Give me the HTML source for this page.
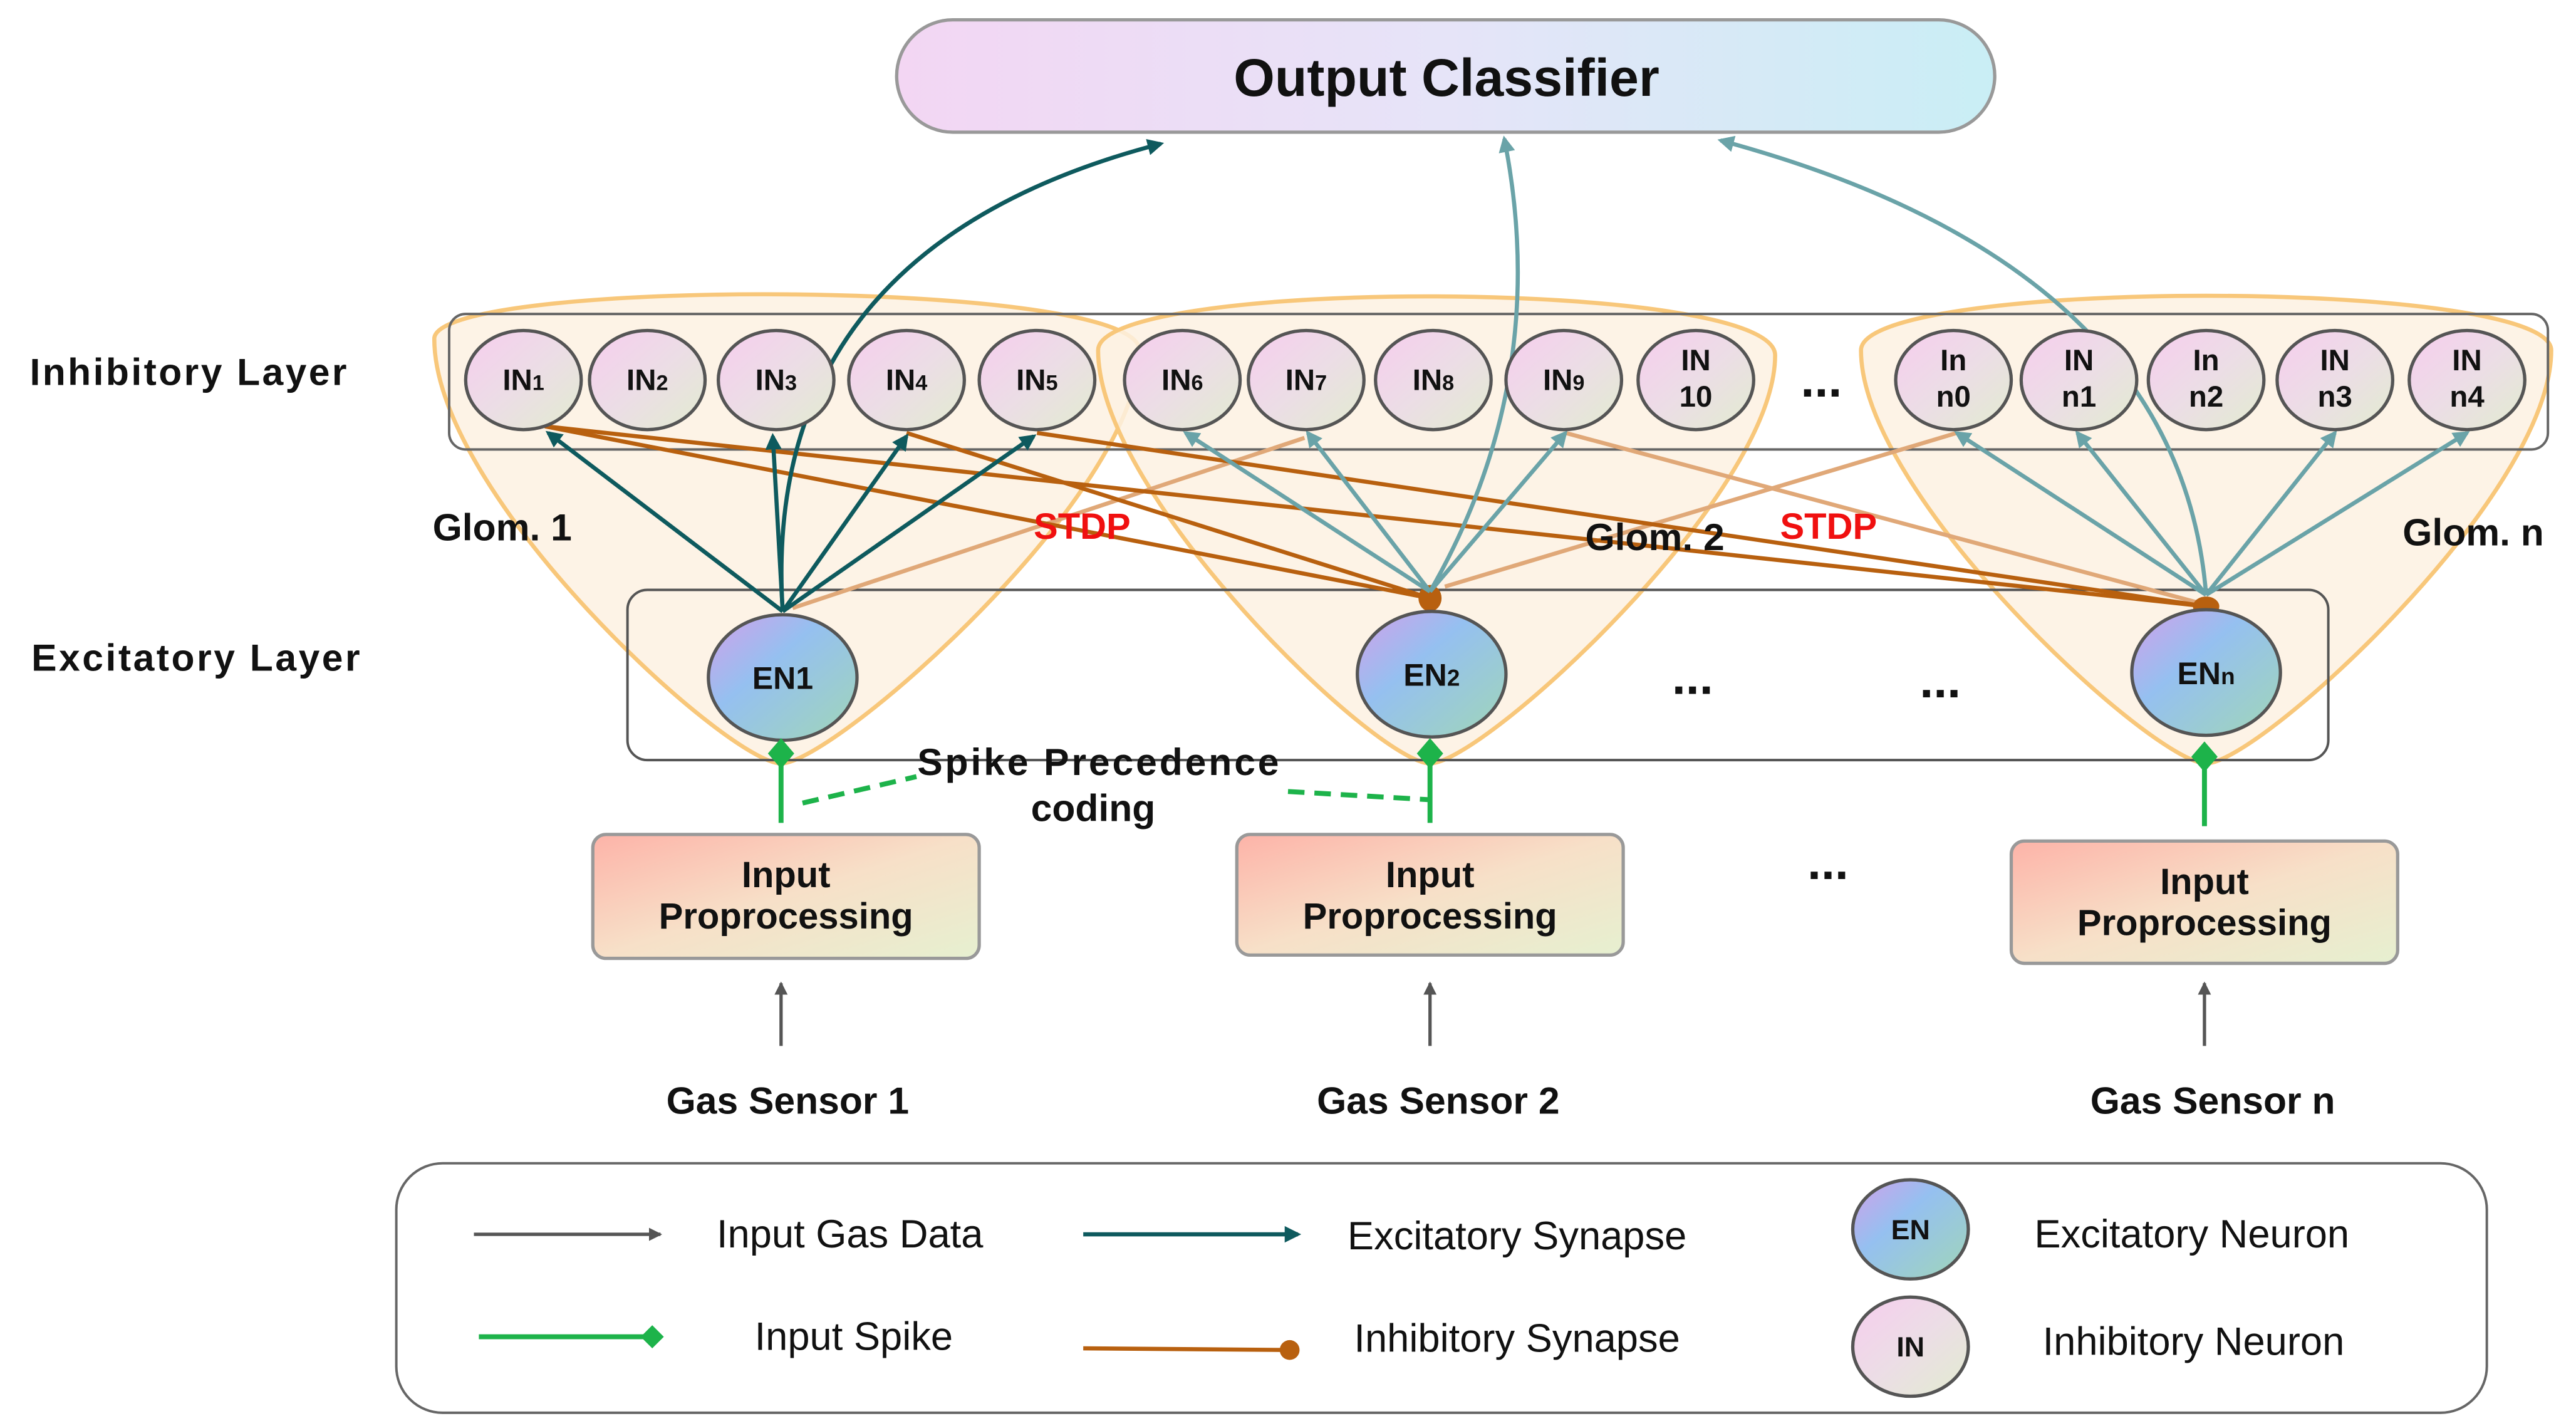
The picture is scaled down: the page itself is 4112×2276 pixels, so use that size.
<!DOCTYPE html>
<html><head><meta charset="utf-8"><style>
html,body{margin:0;padding:0;background:#fff;}
svg{display:block;}
text{font-family:"Liberation Sans",Arial,sans-serif;}
</style></head><body>
<svg width="4112" height="2276" viewBox="0 0 1560 863" preserveAspectRatio="none" xmlns="http://www.w3.org/2000/svg">
<defs>
<linearGradient id="oc" x1="0" y1="0" x2="1" y2="0"><stop offset="0" stop-color="#f3d6f3"/><stop offset="0.5" stop-color="#e6e4f8"/><stop offset="1" stop-color="#c9eef5"/></linearGradient>
<linearGradient id="in" x1="0" y1="0" x2="1" y2="1"><stop offset="0" stop-color="#f7cdee"/><stop offset="0.5" stop-color="#ecdde6"/><stop offset="1" stop-color="#e2ecd0"/></linearGradient>
<linearGradient id="en" x1="0" y1="0" x2="1" y2="1"><stop offset="0" stop-color="#d2a0ea"/><stop offset="0.4" stop-color="#95c0f0"/><stop offset="1" stop-color="#a0d6b8"/></linearGradient>
<linearGradient id="ip" x1="0" y1="0" x2="1" y2="1"><stop offset="0" stop-color="#fdb3a8"/><stop offset="0.5" stop-color="#f7e0c8"/><stop offset="1" stop-color="#e6f0d0"/></linearGradient>
<marker id="ad" markerWidth="10" markerHeight="10" refX="8" refY="5" orient="auto" markerUnits="userSpaceOnUse"><path d="M0,0 L10,5 L0,10 Z" fill="#0e5a5e"/></marker>
<marker id="al" markerWidth="10" markerHeight="10" refX="8" refY="5" orient="auto" markerUnits="userSpaceOnUse"><path d="M0,0 L10,5 L0,10 Z" fill="#6aa3a8"/></marker>
<marker id="ag" markerWidth="8" markerHeight="8" refX="7" refY="4" orient="auto" markerUnits="userSpaceOnUse"><path d="M0,0 L8,4 L0,8 Z" fill="#555"/></marker>
</defs>

<rect x="543" y="12" width="665" height="68" rx="34" fill="url(#oc)" stroke="#999" stroke-width="2"/>
<text x="876" y="58" font-size="32" font-weight="bold" text-anchor="middle" fill="#111">Output Classifier</text>

<g fill="#fdf1e2" fill-opacity="0.85" stroke="#f8c77a" stroke-width="2.5">
<path d="M263,205 C263,168 690,168 690,212 C690,300 505,462 473,462 C441,462 263,300 263,205 Z"/>
<path d="M665,212 C665,168 1075,168 1075,215 C1075,300 898,462 866,462 C834,462 665,300 665,212 Z"/>
<path d="M1127,212 C1127,168 1545,168 1545,212 C1545,300 1368,462 1336,462 C1304,462 1127,300 1127,212 Z"/>
</g>
<rect x="272" y="190" width="1271" height="82" rx="10" fill="none" stroke="#666" stroke-width="1.5"/>
<rect x="380" y="357" width="1030" height="103" rx="12" fill="none" stroke="#555" stroke-width="1.5"/>

<g stroke="#e0a878" stroke-width="2.5" fill="none">
<line x1="480" y1="368" x2="790" y2="265"/>
<line x1="875" y1="355" x2="1185" y2="262"/>
<line x1="948" y1="262" x2="1336" y2="366"/>
</g>
<g stroke="#b8600f" stroke-width="2.5" fill="none">
<line x1="330" y1="258" x2="866" y2="362"/>
<line x1="330" y1="258" x2="1336" y2="367"/>
<line x1="549" y1="262" x2="866" y2="362"/>
<line x1="628" y1="262" x2="1336" y2="367"/>
</g>
<ellipse cx="866" cy="362" rx="7" ry="8" fill="#b8600f"/>
<ellipse cx="1336" cy="367" rx="8" ry="6" fill="#b8600f"/>

<g stroke="#0e5a5e" stroke-width="2.5" fill="none" marker-end="url(#ad)">
<line x1="474" y1="370" x2="332" y2="262"/>
<line x1="474" y1="370" x2="468" y2="264"/>
<line x1="474" y1="370" x2="549" y2="264"/>
<line x1="474" y1="370" x2="626" y2="264"/>
<path d="M474,370 Q460,150 703,87"/>
</g>
<g stroke="#6aa3a8" stroke-width="2.5" fill="none" marker-end="url(#al)">
<line x1="866" y1="358" x2="718" y2="262"/>
<line x1="866" y1="358" x2="792" y2="262"/>
<line x1="866" y1="358" x2="948" y2="262"/>
<path d="M866,358 Q940,230 911,84"/>
<line x1="1336" y1="360" x2="1185" y2="262"/>
<line x1="1336" y1="360" x2="1258" y2="262"/>
<line x1="1336" y1="360" x2="1414" y2="262"/>
<line x1="1336" y1="360" x2="1494" y2="262"/>
<path d="M1336,360 Q1320,160 1042,85"/>
</g>

<g stroke="#555" stroke-width="2" fill="url(#in)">
<ellipse cx="317" cy="230" rx="35" ry="30"/><ellipse cx="392" cy="230" rx="35" ry="30"/>
<ellipse cx="470" cy="230" rx="35" ry="30"/><ellipse cx="549" cy="230" rx="35" ry="30"/>
<ellipse cx="628" cy="230" rx="35" ry="30"/><ellipse cx="716" cy="230" rx="35" ry="30"/>
<ellipse cx="791" cy="230" rx="35" ry="30"/><ellipse cx="868" cy="230" rx="35" ry="30"/>
<ellipse cx="947" cy="230" rx="35" ry="30"/><ellipse cx="1027" cy="230" rx="35" ry="30"/>
<ellipse cx="1183" cy="230" rx="35" ry="30"/><ellipse cx="1259" cy="230" rx="35" ry="30"/>
<ellipse cx="1336" cy="230" rx="35" ry="30"/><ellipse cx="1414" cy="230" rx="35" ry="30"/>
<ellipse cx="1494" cy="230" rx="35" ry="30"/>
</g>
<g font-size="18" font-weight="bold" text-anchor="middle" fill="#111">
<text x="317" y="236">IN<tspan font-size="13">1</tspan></text>
<text x="392" y="236">IN<tspan font-size="13">2</tspan></text>
<text x="470" y="236">IN<tspan font-size="13">3</tspan></text>
<text x="549" y="236">IN<tspan font-size="13">4</tspan></text>
<text x="628" y="236">IN<tspan font-size="13">5</tspan></text>
<text x="716" y="236">IN<tspan font-size="13">6</tspan></text>
<text x="791" y="236">IN<tspan font-size="13">7</tspan></text>
<text x="868" y="236">IN<tspan font-size="13">8</tspan></text>
<text x="947" y="236">IN<tspan font-size="13">9</tspan></text>
<text x="1027" y="224">IN</text><text x="1027" y="246">10</text>
<text x="1183" y="224">In</text><text x="1183" y="246">n0</text>
<text x="1259" y="224">IN</text><text x="1259" y="246">n1</text>
<text x="1336" y="224">In</text><text x="1336" y="246">n2</text>
<text x="1414" y="224">IN</text><text x="1414" y="246">n3</text>
<text x="1494" y="224">IN</text><text x="1494" y="246">n4</text>
</g>

<g stroke="#555" stroke-width="2" fill="url(#en)">
<ellipse cx="474" cy="410" rx="45" ry="38"/>
<ellipse cx="867" cy="408" rx="45" ry="38"/>
<ellipse cx="1336" cy="407" rx="45" ry="38"/>
</g>
<g font-size="19" font-weight="bold" text-anchor="middle" fill="#111">
<text x="474" y="417">EN1</text>
<text x="867" y="415">EN<tspan font-size="14">2</tspan></text>
<text x="1336" y="414">EN<tspan font-size="14">n</tspan></text>
</g>

<g font-size="23" font-weight="bold" fill="#111">
<text x="18" y="233" textLength="192">Inhibitory Layer</text>
<text x="19" y="406" textLength="199">Excitatory Layer</text>
<text x="262" y="327">Glom. 1</text>
<text x="960" y="333">Glom. 2</text>
<text x="1455" y="330">Glom. n</text>
</g>
<g font-size="22" font-weight="bold" fill="#f01010">
<text x="626" y="326">STDP</text>
<text x="1078" y="326">STDP</text>
</g>
<g font-size="30" font-weight="bold" fill="#111" text-anchor="middle">
<text x="1103" y="240">...</text>
<text x="1025" y="420">...</text>
<text x="1175" y="422">...</text>
<text x="1107" y="532">...</text>
</g>

<g stroke="#1db34a" stroke-width="3" fill="#1db34a">
<line x1="473" y1="498" x2="473" y2="460"/><path d="M473,449 L479,456 L473,463 L467,456 Z"/>
<line x1="866" y1="498" x2="866" y2="460"/><path d="M866,449 L872,456 L866,463 L860,456 Z"/>
<line x1="1335" y1="500" x2="1335" y2="462"/><path d="M1335,451 L1341,458 L1335,465 L1329,458 Z"/>
</g>
<g stroke="#1db34a" stroke-width="3" stroke-dasharray="10,6" fill="none">
<line x1="486" y1="486" x2="555" y2="470"/>
<line x1="780" y1="479" x2="866" y2="484"/>
</g>
<g font-size="23" font-weight="bold" fill="#111" text-anchor="middle">
<text x="665" y="469" textLength="219">Spike Precedence</text>
<text x="662" y="497">coding</text>
</g>

<g stroke="#999" stroke-width="2" fill="url(#ip)">
<rect x="359" y="505" width="234" height="75" rx="8"/>
<rect x="749" y="505" width="234" height="73" rx="8"/>
<rect x="1218" y="509" width="234" height="74" rx="8"/>
</g>
<g font-size="22" font-weight="bold" fill="#111" text-anchor="middle">
<text x="476" y="537">Input</text><text x="476" y="562">Proprocessing</text>
<text x="866" y="537">Input</text><text x="866" y="562">Proprocessing</text>
<text x="1335" y="541">Input</text><text x="1335" y="566">Proprocessing</text>
</g>
<g stroke="#555" stroke-width="2" marker-end="url(#ag)">
<line x1="473" y1="633" x2="473" y2="595"/>
<line x1="866" y1="633" x2="866" y2="595"/>
<line x1="1335" y1="633" x2="1335" y2="595"/>
</g>
<g font-size="23" font-weight="bold" fill="#111" text-anchor="middle">
<text x="477" y="674">Gas Sensor 1</text>
<text x="871" y="674">Gas Sensor 2</text>
<text x="1340" y="674">Gas Sensor n</text>
</g>

<rect x="240" y="704" width="1266" height="151" rx="28" fill="none" stroke="#666" stroke-width="1.5"/>
<line x1="287" y1="747" x2="400" y2="747" stroke="#555" stroke-width="2" marker-end="url(#ag)"/>
<line x1="656" y1="747" x2="786" y2="747" stroke="#0e5a5e" stroke-width="2.5" marker-end="url(#ad)"/>
<line x1="290" y1="809" x2="395" y2="809" stroke="#1db34a" stroke-width="3"/>
<path d="M395,802 L402,809 L395,816 L388,809 Z" fill="#1db34a"/>
<line x1="656" y1="816" x2="780" y2="817" stroke="#b8600f" stroke-width="2.5"/>
<circle cx="781" cy="817" r="6" fill="#b8600f"/>
<ellipse cx="1157" cy="744" rx="35" ry="30" fill="url(#en)" stroke="#555" stroke-width="2"/>
<ellipse cx="1157" cy="815" rx="35" ry="30" fill="url(#in)" stroke="#555" stroke-width="2"/>
<g font-size="17" font-weight="bold" text-anchor="middle" fill="#111">
<text x="1157" y="750">EN</text><text x="1157" y="821">IN</text>
</g>
<g font-size="24" fill="#111">
<text x="434" y="755">Input Gas Data</text>
<text x="816" y="756">Excitatory Synapse</text>
<text x="1232" y="755">Excitatory Neuron</text>
<text x="457" y="817">Input Spike</text>
<text x="820" y="818">Inhibitory Synapse</text>
<text x="1237" y="820">Inhibitory Neuron</text>
</g>
</svg>
</body></html>
